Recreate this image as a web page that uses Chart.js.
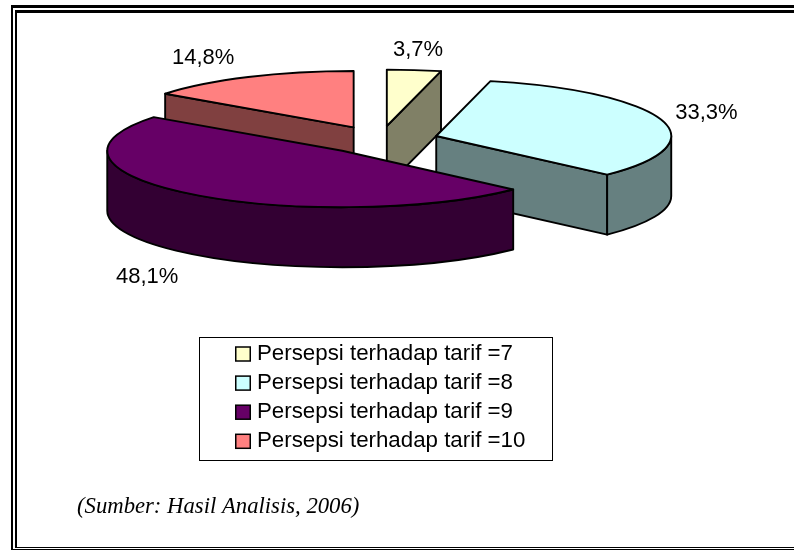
<!DOCTYPE html>
<html>
<head>
<meta charset="utf-8">
<title>Persepsi terhadap tarif</title>
<script src="https://cdn.jsdelivr.net/npm/chart.js@4"></script>
<style>
    html, body { margin: 0; background: #fff; overflow: hidden; }
    #wrap { position: relative; width: 794px; height: 550px; overflow: hidden; }
    #frame { position: absolute; left: 11px; top: 5px; width: 800px; height: 534px;
             box-sizing: content-box; border-style: double; border-color: #000;
             border-width: 8px 0 3px 6px; }
    canvas { position: absolute; left: 0; top: 0; }
</style>
</head>
<body>
<div id="wrap">
    <div id="frame"></div>
    <canvas id="pie" width="794" height="550"></canvas>
</div>
<script>
var categories = ["Persepsi terhadap tarif =7", "Persepsi terhadap tarif =8",
                  "Persepsi terhadap tarif =9", "Persepsi terhadap tarif =10"];
var shares = [3.7, 33.3, 48.1, 14.8];
var sliceColors = ["#FFFFCC", "#CCFFFF", "#660066", "#FF8080"];
var wallColors = ["#808066", "#668080", "#330033", "#804040"];
var sourceNote = "(Sumber: Hasil Analisis, 2006)";

// look of the tilted pie
var centerX = 380, centerY = 140, squash = 0.24, explode = 58.7, depth = 60;
// where each percent label sits, relative to the slice's outer edge
var labelNudge = [[4, -20], [45, -7], [-44, 83], [-45, -19]];
var labelFont = "22px 'Liberation Sans', Arial, sans-serif";

function sliceOrigin(arc) {
    var mid = (arc.startAngle + arc.endAngle) / 2;
    return {
        mid: mid,
        x: centerX + Math.cos(mid) * explode,
        y: centerY + Math.sin(mid) * explode * squash
    };
}

function drawWalls(ctx, arc, o, color) {
    var r = arc.outerRadius, ry = r * squash;
    var a0 = arc.startAngle, a1 = arc.endAngle;
    ctx.fillStyle = color;

    function radialWall(angle) {
        var ex = o.x + Math.cos(angle) * r, ey = o.y + Math.sin(angle) * ry;
        ctx.beginPath();
        ctx.moveTo(o.x, o.y);
        ctx.lineTo(ex, ey);
        ctx.lineTo(ex, ey + depth);
        ctx.lineTo(o.x, o.y + depth);
        ctx.closePath();
        ctx.fill();
        ctx.stroke();
    }
    if (Math.cos(a0) < -0.001) radialWall(a0);
    if (Math.cos(a1) > 0.001) radialWall(a1);

    // only the part of the rim that faces the viewer
    var from = Math.max(a0, 0), to = Math.min(a1, Math.PI);
    if (to > from) {
        ctx.beginPath();
        ctx.ellipse(o.x, o.y, r, ry, 0, from, to);
        ctx.ellipse(o.x, o.y + depth, r, ry, 0, to, from, true);
        ctx.closePath();
        ctx.fill();
        ctx.stroke();
    }
}

var tiltedPie = {
    id: "tiltedPie",
    beforeDatasetDraw: function (chart) {
        var ctx = chart.ctx;
        var arcs = chart.getDatasetMeta(0).data;
        var order = arcs.map(function (a, i) { return i; });
        // back slices first
        order.sort(function (p, q) {
            return Math.sin((arcs[p].startAngle + arcs[p].endAngle) / 2) -
                   Math.sin((arcs[q].startAngle + arcs[q].endAngle) / 2);
        });

        ctx.save();
        ctx.lineWidth = 1.9;
        ctx.strokeStyle = "#000";
        ctx.lineJoin = "round";
        order.forEach(function (i) {
            var arc = arcs[i];
            var o = sliceOrigin(arc);
            drawWalls(ctx, arc, o, wallColors[i]);

            ctx.save();
            ctx.translate(o.x, o.y);
            ctx.scale(1, squash);
            ctx.translate(-arc.x, -arc.y);
            arc.draw(ctx);
            ctx.restore();

            ctx.beginPath();
            ctx.moveTo(o.x, o.y);
            ctx.ellipse(o.x, o.y, arc.outerRadius, arc.outerRadius * squash, 0, arc.startAngle, arc.endAngle);
            ctx.closePath();
            ctx.stroke();
        });
        ctx.restore();
        return false;
    },
    afterDraw: function (chart) {
        var ctx = chart.ctx;
        var arcs = chart.getDatasetMeta(0).data;
        ctx.save();
        ctx.fillStyle = "#000";
        ctx.textBaseline = "middle";

        // percent labels
        ctx.font = labelFont;
        ctx.textAlign = "center";
        arcs.forEach(function (arc, i) {
            var o = sliceOrigin(arc);
            var r = arc.outerRadius;
            ctx.fillText(shares[i].toFixed(1).replace(".", ",") + "%",
                o.x + Math.cos(o.mid) * r + labelNudge[i][0],
                o.y + Math.sin(o.mid) * r * squash + labelNudge[i][1]);
        });

        // legend
        ctx.strokeStyle = "#000";
        ctx.lineWidth = 1;
        ctx.strokeRect(199.5, 337.5, 353, 123);
        ctx.textAlign = "left";
        ctx.font = "22.3px 'Liberation Sans', Arial, sans-serif";
        categories.forEach(function (name, i) {
            var rowY = 354 + i * 29.1;
            ctx.fillStyle = sliceColors[i];
            ctx.lineWidth = 1.5;
            ctx.fillRect(235.75, rowY - 7, 14.5, 14);
            ctx.strokeRect(235.75, rowY - 7, 14.5, 14);
            ctx.fillStyle = "#000";
            ctx.fillText(name, 257, rowY);
        });

        // source note
        ctx.font = "italic 22.7px 'Liberation Serif', 'Times New Roman', serif";
        ctx.fillText(sourceNote, 77, 507);
        ctx.restore();
    }
};

new Chart(document.getElementById("pie"), {
    type: "pie",
    data: {
        labels: categories,
        datasets: [{
            data: shares,
            backgroundColor: sliceColors,
            borderWidth: 0,
            radius: 235
        }]
    },
    options: {
        responsive: false,
        animation: false,
        events: [],
        plugins: {
            legend: { display: false },
            tooltip: { enabled: false }
        }
    },
    plugins: [tiltedPie]
});
</script>
</body>
</html>
